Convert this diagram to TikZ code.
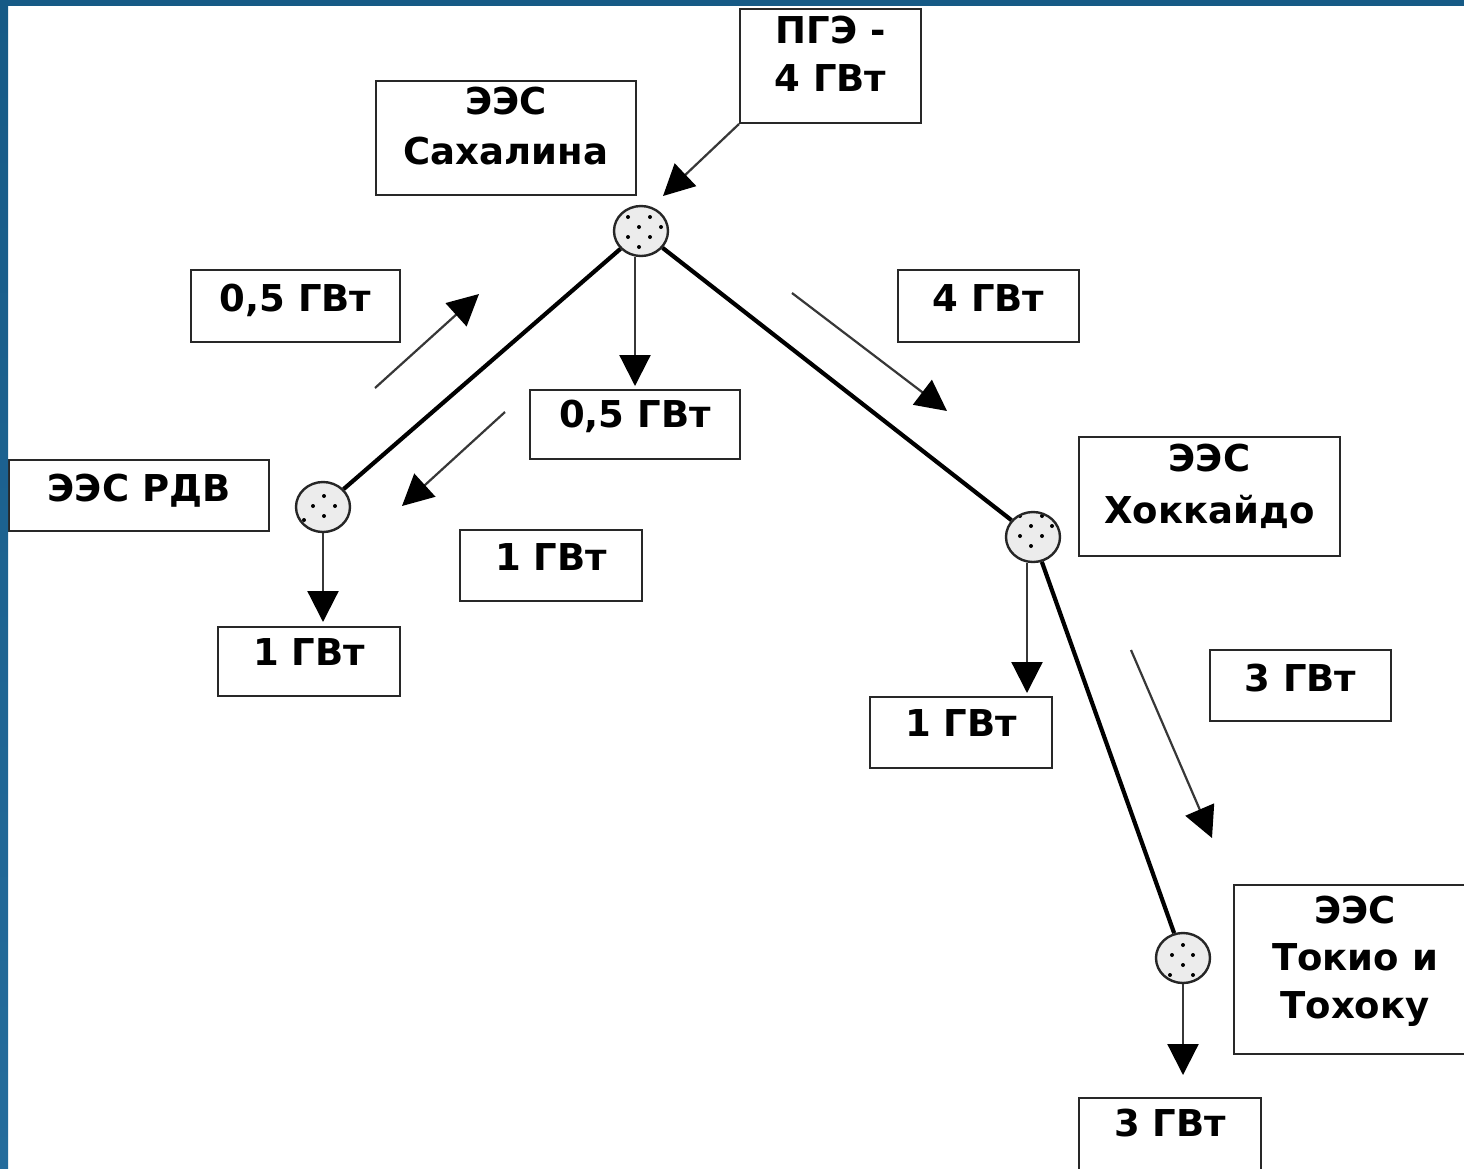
\documentclass[tikz,border=0pt]{standalone}
\usepackage{fontspec}
\setmainfont{DejaVu Sans}
\usetikzlibrary{arrows.meta,shapes.geometric,calc}

\definecolor{frameblue}{RGB}{22,90,134}
\definecolor{frameblueB}{RGB}{36,108,156}
\definecolor{edgegray}{RGB}{40,40,40}
\definecolor{flowgray}{RGB}{55,55,55}
\definecolor{hubfill}{RGB}{236,236,236}

% centred stack of lines; the box height is that of the first line
\newcommand\rowstack[2]{\vtop{\baselineskip=#1\lineskiplimit=-100pt\halign{\hfil##\hfil\cr#2\crcr}}}

\tikzset{
  box/.style={draw=edgegray, line width=1pt, fill=white, rectangle,
    inner sep=0pt, anchor=north,
    font=\fontsize{18.5}{22}\selectfont\bfseries},
  hub/.style={ellipse, draw=black!85, line width=1.2pt, fill=hubfill,
    minimum width=27pt, minimum height=25pt, inner sep=0pt,
    path picture={\foreach \p in {#1}
      \fill[black] (path picture bounding box.center) ++\p circle (1pt);}},
  link/.style={line width=2.1pt, draw=black},
  flow/.style={line width=1.1pt, draw=flowgray,
    -{Triangle[length=15.5pt,width=15.5pt,color=black]}}
}

\begin{document}
\begin{tikzpicture}[x=0.5pt,y=-0.5pt]
\useasboundingbox (0,0) rectangle (1464,1169);
\clip (0,0) rectangle (1464,1169);
\fill[white] (0,0) rectangle (1464,1169);

% power-system nodes
\node[hub={(-13,-14),(9,-14),(-2,-4),(20,-4),(-13,6),(9,6),(-2,16)}] (hubS) at (641,231) {};
\node[hub={(1,-11),(-10,-1),(12,-1),(1,9),(-19,13)}] (hubR) at (323,507) {};
\node[hub={(-2,-11),(19,-11),(-13,-1),(9,-1),(-2,9),(-13,-21),(9,-21)}] (hubH) at (1033,537) {};
\node[hub={(0,-13),(-11,-3),(10,-3),(0,7),(-13,17),(10,17)}] (hubT) at (1183,958) {};

% labels
\node[box, minimum width=90.5pt, text height=17pt, text depth=40pt] (pge) at (830.5,8) {\rowstack{24pt}{ПГЭ -\cr 4 ГВт}};
\node[box, minimum width=130pt, text height=16.5pt, text depth=40.5pt] (sakh) at (506,80) {\rowstack{25pt}{ЭЭС\cr Сахалина}};
\node[box, minimum width=104.5pt, text height=20.5pt, text depth=15.5pt] (l05) at (295.5,269) {0,5 ГВт};
\node[box, minimum width=90.5pt, text height=20.5pt, text depth=15.5pt] (g4) at (988.5,269) {4 ГВт};
\node[box, minimum width=105pt, text height=18.5pt, text depth=16pt] (m05) at (635,389) {0,5 ГВт};
\node[box, minimum width=130pt, text height=20.5pt, text depth=15pt] (rdv) at (139,459) {ЭЭС РДВ};
\node[box, minimum width=91pt, text height=20pt, text depth=15.5pt] (m1) at (551,529) {1 ГВт};
\node[box, minimum width=91pt, text height=19pt, text depth=15.5pt] (l1) at (309,626) {1 ГВт};
\node[box, minimum width=130.5pt, text height=17pt, text depth=42.5pt] (hok) at (1209.5,436) {\rowstack{26pt}{ЭЭС\cr Хоккайдо}};
\node[box, minimum width=91pt, text height=19.5pt, text depth=16pt] (r1) at (961,696) {1 ГВт};
\node[box, minimum width=90.5pt, text height=20.5pt, text depth=15pt] (r3) at (1300.5,649) {3 ГВт};
\node[box, minimum width=121pt, text height=19pt, text depth=65.5pt] (tok) at (1355,884) {\rowstack{23.75pt}{ЭЭС\cr Токио и\cr Тохоку}};
\node[box, minimum width=91pt, text height=19pt, text depth=22.5pt] (b3) at (1170,1097) {3 ГВт};

% transmission lines
\draw[link] (hubS) -- (hubR);
\draw[link] (hubS) -- (hubH);
\draw[link] (hubH) -- (hubT);

% supply and consumption arrows
\coordinate (pgetip) at (663,196);
\draw[flow] (pge.south west) -- (pgetip);
\draw[flow, shorten >=1.5pt] (hubS.south -| m05.north) -- (m05.north);
\draw[flow, shorten >=2pt] (hubR.south) -- (hubR.south |- l1.north);
\coordinate (hd) at ($(hubH.south)+(-6,0)$);
\draw[flow, shorten >=1.5pt] (hd) -- (hd |- r1.north);
\draw[flow, shorten >=11pt] (hubT.south) -- (hubT.south |- b3.north);

% flow directions along the lines
\coordinate (f1s) at (375,388);  \coordinate (f1e) at (479,294);
\coordinate (f2s) at (505,412);  \coordinate (f2e) at (402,506);
\coordinate (f3s) at (792,293);  \coordinate (f3e) at (947,411);
\coordinate (f4s) at (1131,650); \coordinate (f4e) at (1212,838);
\draw[flow] (f1s) -- (f1e);
\draw[flow] (f2s) -- (f2e);
\draw[flow] (f3s) -- (f3e);
\draw[flow] (f4s) -- (f4e);

% slide frame
\fill[frameblue] (0,0) rectangle (1464,6);
\shade[top color=frameblue, bottom color=frameblueB] (0,0) rectangle (8,1169);
\end{tikzpicture}
\end{document}
